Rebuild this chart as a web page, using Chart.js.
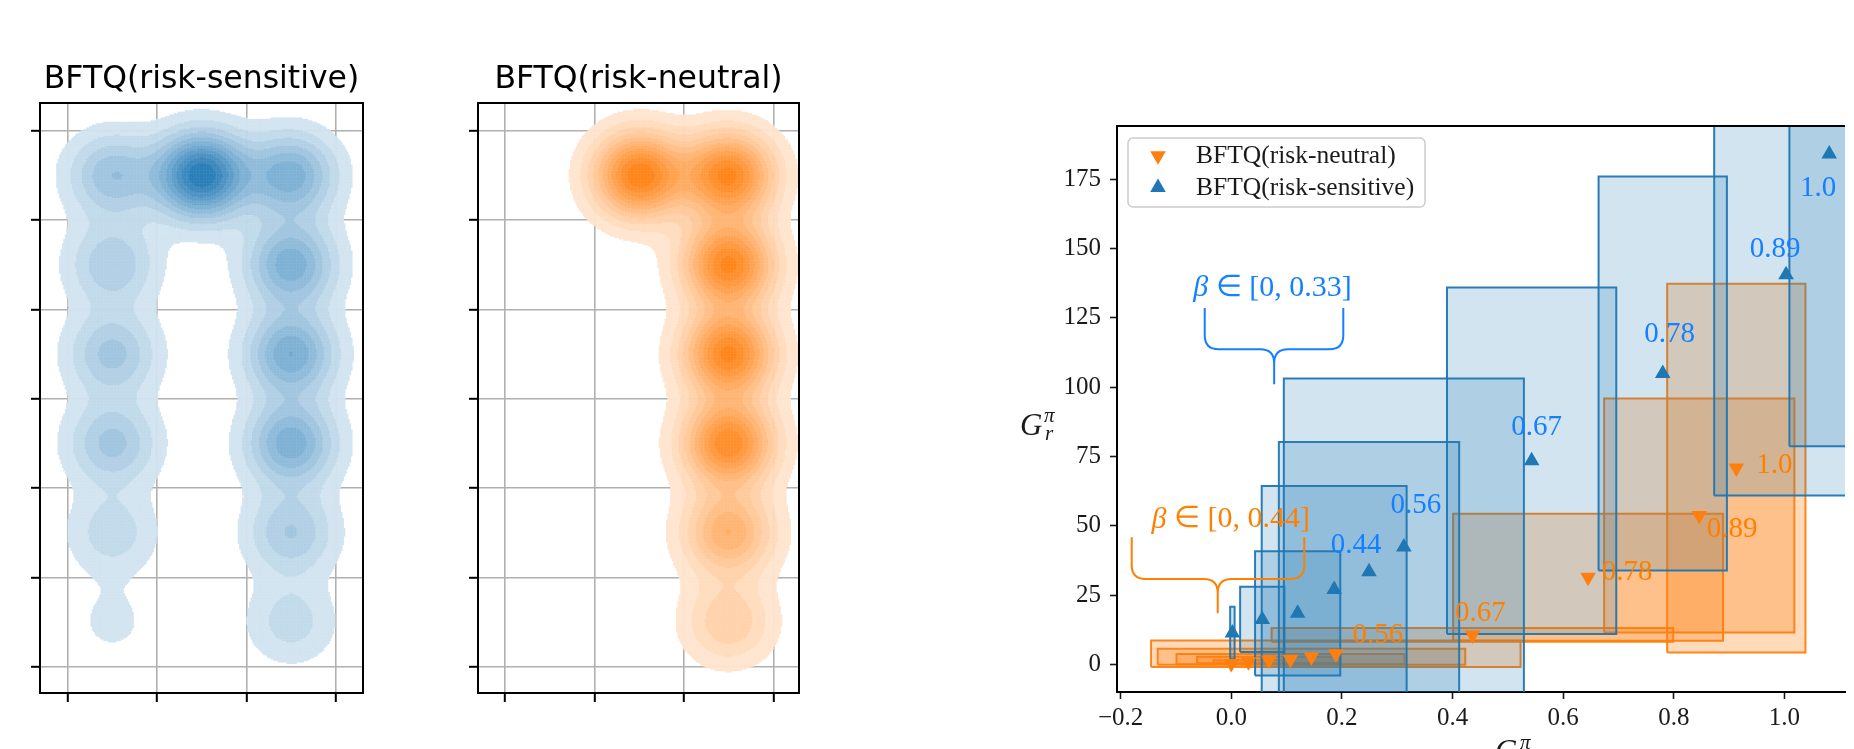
<!DOCTYPE html>
<html>
<head>
<meta charset="utf-8">
<script src="https://cdn.jsdelivr.net/npm/chart.js@4.4.1/dist/chart.umd.min.js"></script>
<style>
html, body { margin: 0; padding: 0; background: #fff; overflow: hidden; }
#wrap { position: relative; width: 1854px; height: 749px; }
.panel { position: absolute; top: 0; }
</style>
</head>
<body>
<div id="wrap">
  <div class="panel" style="left:0"><canvas id="kdeSensitive" width="420" height="749"></canvas></div>
  <div class="panel" style="left:420px"><canvas id="kdeNeutral" width="420" height="749"></canvas></div>
  <div class="panel" style="left:900px"><canvas id="pareto" width="954" height="749"></canvas></div>
</div>
<script>
// ---------- left panels: visit density over the grid world ----------
const cellX = [0.5, 1.5, 2.5];
const cellY = [0.5, 1.5, 2.5, 3.5, 4.5, 5.5];
// rows go from y = 0.5 (bottom) to y = 5.5 (top), columns x = 0.5, 1.5, 2.5
const sensitiveVisits = [
  [0.09, 0, 0.20],
  [0.21, 0, 0.33],
  [0.36, 0, 0.56],
  [0.36, 0, 0.58],
  [0.32, 0, 0.56],
  [0.40, 1.00, 0.55]
];
const neutralVisits = [
  [0, 0, 0.32],
  [0, 0, 0.58],
  [0, 0, 0.92],
  [0, 0, 0.95],
  [0, 0, 0.95],
  [0, 1.00, 0.95]
];
const gridTicksX = [0, 1, 2, 3];
const gridTicksY = [0, 1, 2, 3, 4, 5, 6];
const kdeLevels = [0.07, 0.155, 0.24, 0.325, 0.41, 0.495, 0.58, 0.665, 0.75, 0.835, 0.92];

// ---------- right panel: mean and std of cost / reward per beta ----------
const betas = ['0.0', '0.11', '0.22', '0.33', '0.44', '0.56', '0.67', '0.78', '0.89', '1.0'];
const neutralCost      = [0.000, 0.031, 0.068, 0.107, 0.145, 0.189, 0.436, 0.645, 0.846, 0.913];
const neutralCostStd   = [0.004, 0.063, 0.130, 0.206, 0.278, 0.334, 0.363, 0.244, 0.172, 0.125];
const neutralReward    = [0.3, 0.9, 1.55, 1.85, 2.7, 3.8, 10.6, 31.4, 53.7, 70.8];
const neutralRewardStd = [0.3, 0.6, 1.2, 1.85, 2.9, 4.8, 2.5, 22.9, 42.2, 66.5];
const sensitiveCost      = [0.002, 0.056, 0.120, 0.186, 0.249, 0.312, 0.543, 0.780, 1.003, 1.081];
const sensitiveCostStd   = [0.004, 0.040, 0.077, 0.131, 0.163, 0.217, 0.153, 0.116, 0.130, 0.072];
const sensitiveReward    = [11.3, 16.2, 18.4, 27.0, 33.4, 42.3, 73.4, 104.9, 140.5, 184.1];
const sensitiveRewardStd = [9.5, 11.8, 22.4, 37.3, 46.8, 60.8, 62.5, 71.1, 79.6, 105.4];
const costTicks = [-0.2, 0.0, 0.2, 0.4, 0.6, 0.8, 1.0];
const rewardTicks = [0, 25, 50, 75, 100, 125, 150, 175];

const blue = [31, 119, 180];
const orange = [255, 127, 14];
const blueText = 'rgb(20,128,255)';
const orangeText = 'rgb(255,128,0)';
const serif = '"Liberation Serif"';

function mix(rgb, a) {
  return 'rgb(' + rgb.map(c => Math.round(255 - a * (255 - c))).join(',') + ')';
}
function rgba(rgb, a) { return 'rgba(' + rgb.join(',') + ',' + a + ')'; }

// gaussian kde on a fine grid, binned by contour level
function kdeBands(visits, xMin, xMax, yMin, yMax) {
  const step = 0.016, sx = 0.34, sy = 0.32;
  const cells = [];
  let top = 0;
  for (let x = xMin; x <= xMax + step; x += step) {
    for (let y = yMin; y <= yMax + step; y += step) {
      let d = 0;
      visits.forEach((row, r) => row.forEach((w, c) => {
        if (!w) return;
        const dx = (x - cellX[c]) / sx, dy = (y - cellY[r]) / sy;
        d += w * Math.exp(-0.5 * (dx * dx + dy * dy));
      }));
      cells.push({ x, y, d });
      if (d > top) top = d;
    }
  }
  const bands = kdeLevels.map(() => []);
  cells.forEach(p => {
    const v = p.d / top;
    let k = -1;
    kdeLevels.forEach((t, i) => { if (v >= t) k = i; });
    if (k >= 0) bands[k].push({ x: p.x, y: p.y });
  });
  return bands;
}

const framePlugin = {
  id: 'frame',
  afterDraw(chart) {
    const { ctx, chartArea: a } = chart;
    ctx.save();
    ctx.strokeStyle = '#000';
    ctx.lineWidth = 2;
    ctx.strokeRect(a.left, a.top, a.right - a.left, a.bottom - a.top);
    ctx.fillStyle = '#000';
    ctx.font = '31.5px "DejaVu Sans"';
    ctx.textAlign = 'center';
    ctx.textBaseline = 'alphabetic';
    ctx.fillText(chart.options.plugins.frame.title, (a.left + a.right) / 2, 88);
    ctx.restore();
  }
};

function kdeChart(id, visits, rgb, title, xMin, xMax, yAxisWidth, padRight) {
  const yMin = -0.294, yMax = 6.31;
  const bands = kdeBands(visits, xMin, xMax, yMin, yMax);
  const n = kdeLevels.length;
  const datasets = bands.map((pts, k) => ({
    data: pts,
    pointStyle: 'rect',
    pointRadius: 1.3,
    borderWidth: 0,
    backgroundColor: mix(rgb, 0.2 + 0.75 * k / (n - 1)),
    order: n - k
  }));
  const gridOpts = { color: '#b0b0b0', lineWidth: 1.6, tickColor: '#000', tickLength: 9, tickWidth: 2 };
  new Chart(document.getElementById(id), {
    type: 'scatter',
    data: { datasets },
    options: {
      responsive: false,
      animation: false,
      events: [],
      layout: { padding: { top: 103, right: padRight, bottom: 0, left: 0 } },
      plugins: { legend: { display: false }, tooltip: { enabled: false }, frame: { title } },
      scales: {
        x: {
          type: 'linear', min: xMin, max: xMax, z: 1,
          afterBuildTicks: s => { s.ticks = gridTicksX.map(v => ({ value: v })); },
          afterFit: s => { s.height = 56; },
          ticks: { callback: () => '', padding: 0 },
          grid: gridOpts,
          border: { display: false }
        },
        y: {
          type: 'linear', min: yMin, max: yMax, z: 1,
          afterBuildTicks: s => { s.ticks = gridTicksY.map(v => ({ value: v })); },
          afterFit: s => { s.width = yAxisWidth; },
          ticks: { callback: () => '', padding: 0 },
          grid: gridOpts,
          border: { display: false }
        }
      }
    },
    plugins: [framePlugin]
  });
}

kdeChart('kdeSensitive', sensitiveVisits, blue, 'BFTQ(risk-sensitive)', -0.31, 3.306, 40, 57);
kdeChart('kdeNeutral', neutralVisits, orange, 'BFTQ(risk-neutral)', -0.302, 3.287, 58, 41);

// ---------- right panel ----------
function rectPath(cx, cy, sx, sy) {
  return [
    { x: cx - sx, y: cy - sy }, { x: cx + sx, y: cy - sy },
    { x: cx + sx, y: cy + sy }, { x: cx - sx, y: cy + sy },
    { x: cx - sx, y: cy - sy }
  ];
}

const markerRadius = 9;
const paretoSets = [
  {
    label: 'BFTQ(risk-sensitive)', type: 'scatter',
    data: sensitiveCost.map((c, i) => ({ x: c, y: sensitiveReward[i] })),
    pointStyle: 'triangle', pointRadius: markerRadius, borderWidth: 0,
    backgroundColor: rgba(blue, 1), order: 0
  },
  {
    label: 'BFTQ(risk-neutral)', type: 'scatter',
    data: neutralCost.map((c, i) => ({ x: c, y: neutralReward[i] })),
    pointStyle: 'triangle', rotation: 180, pointRadius: markerRadius, borderWidth: 0,
    backgroundColor: rgba(orange, 1), order: 1
  }
];
sensitiveCost.forEach((c, i) => paretoSets.push({
  type: 'line',
  data: rectPath(c, sensitiveReward[i], sensitiveCostStd[i], sensitiveRewardStd[i]),
  borderColor: rgba(blue, 0.95), backgroundColor: rgba(blue, 0.2),
  borderWidth: 2, fill: 'shape', pointRadius: 0, tension: 0,
  borderJoinStyle: 'miter', order: 20 - i
}));
neutralCost.forEach((c, i) => paretoSets.push({
  type: 'line',
  data: rectPath(c, neutralReward[i], neutralCostStd[i], neutralRewardStd[i]),
  borderColor: rgba(orange, 0.95), backgroundColor: rgba(orange, 0.28),
  borderWidth: 2, fill: 'shape', pointRadius: 0, tension: 0,
  borderJoinStyle: 'miter', order: 40 - i
}));

// label offsets in pixels from each marker (first labelled index per series)
const sensitiveLabelStart = 4;
const sensitiveLabelOffset = [[-13, -26], [12, -42], [5, -33], [7, -39], [-11, -25], [-11, 34]];
const neutralLabelStart = 5;
const neutralLabelOffset = [[42, -18], [8, -22], [39, -5], [33, 14], [38, -3]];

const braces = [
  { from: -0.048, to: 0.2025, tip: 0.0775, armTop: 128.5, bar: 113.7, end: 101, textX: 0.0746, textY: 135.8, range: '[0, 0.33]', color: blueText },
  { from: -0.180, to: 0.132, tip: -0.0245, armTop: 45.8, bar: 30.8, end: 18.4, textX: -0.001, textY: 52.2, range: '[0, 0.44]', color: orangeText }
];

function drawRuns(ctx, runs, cx, cy) {
  let w = 0;
  runs.forEach(r => { ctx.font = r.font; r.w = ctx.measureText(r.text).width; w += r.w; });
  let x = cx - w / 2;
  runs.forEach(r => { ctx.font = r.font; ctx.fillText(r.text, x, cy + (r.dy || 0)); x += r.w; });
}

const paretoPlugin = {
  id: 'paretoDecor',
  afterDatasetsDraw(chart) {
    const { ctx, scales: { x, y } } = chart;
    ctx.save();
    // braces
    braces.forEach(b => {
      const L = x.getPixelForValue(b.from), R = x.getPixelForValue(b.to), T = x.getPixelForValue(b.tip);
      const yA = y.getPixelForValue(b.armTop), yB = y.getPixelForValue(b.bar), yE = y.getPixelForValue(b.end);
      const r = 14;
      ctx.strokeStyle = b.color;
      ctx.lineWidth = 2;
      ctx.beginPath();
      ctx.moveTo(L, yA); ctx.lineTo(L, yB - r); ctx.quadraticCurveTo(L, yB, L + r, yB);
      ctx.lineTo(T - r, yB); ctx.quadraticCurveTo(T, yB, T, yB + r); ctx.lineTo(T, yE);
      ctx.moveTo(R, yA); ctx.lineTo(R, yB - r); ctx.quadraticCurveTo(R, yB, R - r, yB);
      ctx.lineTo(T + r, yB); ctx.quadraticCurveTo(T, yB, T, yB + r);
      ctx.stroke();
      ctx.fillStyle = b.color;
      ctx.textBaseline = 'middle';
      ctx.textAlign = 'left';
      drawRuns(ctx, [
        { text: 'β', font: 'italic 30px ' + serif },
        { text: ' ∈ ' + b.range, font: '30px ' + serif }
      ], x.getPixelForValue(b.textX), y.getPixelForValue(b.textY));
    });
    // beta labels next to markers
    ctx.textAlign = 'center';
    ctx.textBaseline = 'middle';
    ctx.font = '29px ' + serif;
    const sMeta = chart.getDatasetMeta(0), nMeta = chart.getDatasetMeta(1);
    ctx.fillStyle = blueText;
    sensitiveLabelOffset.forEach((o, k) => {
      const p = sMeta.data[sensitiveLabelStart + k];
      ctx.fillText(betas[sensitiveLabelStart + k], p.x + o[0], p.y + o[1]);
    });
    ctx.fillStyle = orangeText;
    neutralLabelOffset.forEach((o, k) => {
      const p = nMeta.data[neutralLabelStart + k];
      ctx.fillText(betas[neutralLabelStart + k], p.x + o[0], p.y + o[1]);
    });
    ctx.restore();
  },
  afterDraw(chart) {
    const { ctx, chartArea: a } = chart;
    ctx.save();
    // top spine
    ctx.strokeStyle = '#000';
    ctx.lineWidth = 2;
    ctx.beginPath(); ctx.moveTo(a.left - 1, a.top); ctx.lineTo(a.right, a.top); ctx.stroke();
    // legend
    const lx = 228, ly = 138, lw = 297, lh = 69, rad = 5;
    ctx.beginPath();
    ctx.moveTo(lx + rad, ly); ctx.arcTo(lx + lw, ly, lx + lw, ly + lh, rad);
    ctx.arcTo(lx + lw, ly + lh, lx, ly + lh, rad); ctx.arcTo(lx, ly + lh, lx, ly, rad);
    ctx.arcTo(lx, ly, lx + lw, ly, rad); ctx.closePath();
    ctx.fillStyle = 'rgba(255,255,255,0.8)'; ctx.fill();
    ctx.strokeStyle = '#cccccc'; ctx.lineWidth = 1.5; ctx.stroke();
    const rows = [chart.data.datasets[1], chart.data.datasets[0]];
    rows.forEach((ds, i) => {
      const cy = ly + 17.7 + i * 31.8;
      ctx.fillStyle = ds.backgroundColor;
      Chart.helpers.drawPoint(ctx, { pointStyle: 'triangle', radius: markerRadius, rotation: ds.rotation || 0, borderWidth: 0 }, lx + 30, cy);
      ctx.fillStyle = '#1a1a1a';
      ctx.font = '25.5px ' + serif;
      ctx.textAlign = 'left';
      ctx.textBaseline = 'middle';
      ctx.fillText(ds.label, lx + 68, cy + 1);
    });
    // axis titles
    ctx.fillStyle = '#1a1a1a';
    ctx.textAlign = 'left';
    ctx.textBaseline = 'alphabetic';
    ctx.font = 'italic 31px ' + serif;
    ctx.fillText('G', 120, 435);
    ctx.font = 'italic 21px ' + serif;
    ctx.fillText('π', 144, 422);
    ctx.fillText('r', 145, 440);
    ctx.font = 'italic 31px ' + serif;
    ctx.fillText('G', 595, 761);
    ctx.font = 'italic 21px ' + serif;
    ctx.fillText('π', 620, 749);
    ctx.restore();
  }
};

const tickFont = { family: 'Liberation Serif', size: 25 };
new Chart(document.getElementById('pareto'), {
  type: 'scatter',
  data: { datasets: paretoSets },
  options: {
    responsive: false,
    animation: false,
    events: [],
    layout: { padding: { top: 126, right: 0, bottom: 0, left: 0 } },
    plugins: { legend: { display: false }, tooltip: { enabled: false } },
    scales: {
      x: {
        type: 'linear', min: -0.2066, max: 1.1095,
        afterBuildTicks: s => { s.ticks = costTicks.map(v => ({ value: v })); },
        afterFit: s => { s.height = 57; },
        ticks: {
          font: tickFont, color: '#1a1a1a', padding: 4, maxRotation: 0,
          callback: v => (v < 0 ? '\u2212' : '') + Math.abs(v).toFixed(1)
        },
        grid: { drawOnChartArea: false, tickLength: 7, tickColor: '#1a1a1a', tickWidth: 1.6 },
        border: { color: '#000', width: 2 }
      },
      y: {
        type: 'linear', min: -9.99, max: 194.2,
        afterBuildTicks: s => { s.ticks = rewardTicks.map(v => ({ value: v })); },
        afterFit: s => { s.width = 217; },
        ticks: { font: tickFont, color: '#1a1a1a', padding: 9, callback: v => String(v) },
        grid: { drawOnChartArea: false, tickLength: 7, tickColor: '#1a1a1a', tickWidth: 1.6 },
        border: { color: '#000', width: 2 }
      }
    }
  },
  plugins: [paretoPlugin]
});
</script>
</body>
</html>
